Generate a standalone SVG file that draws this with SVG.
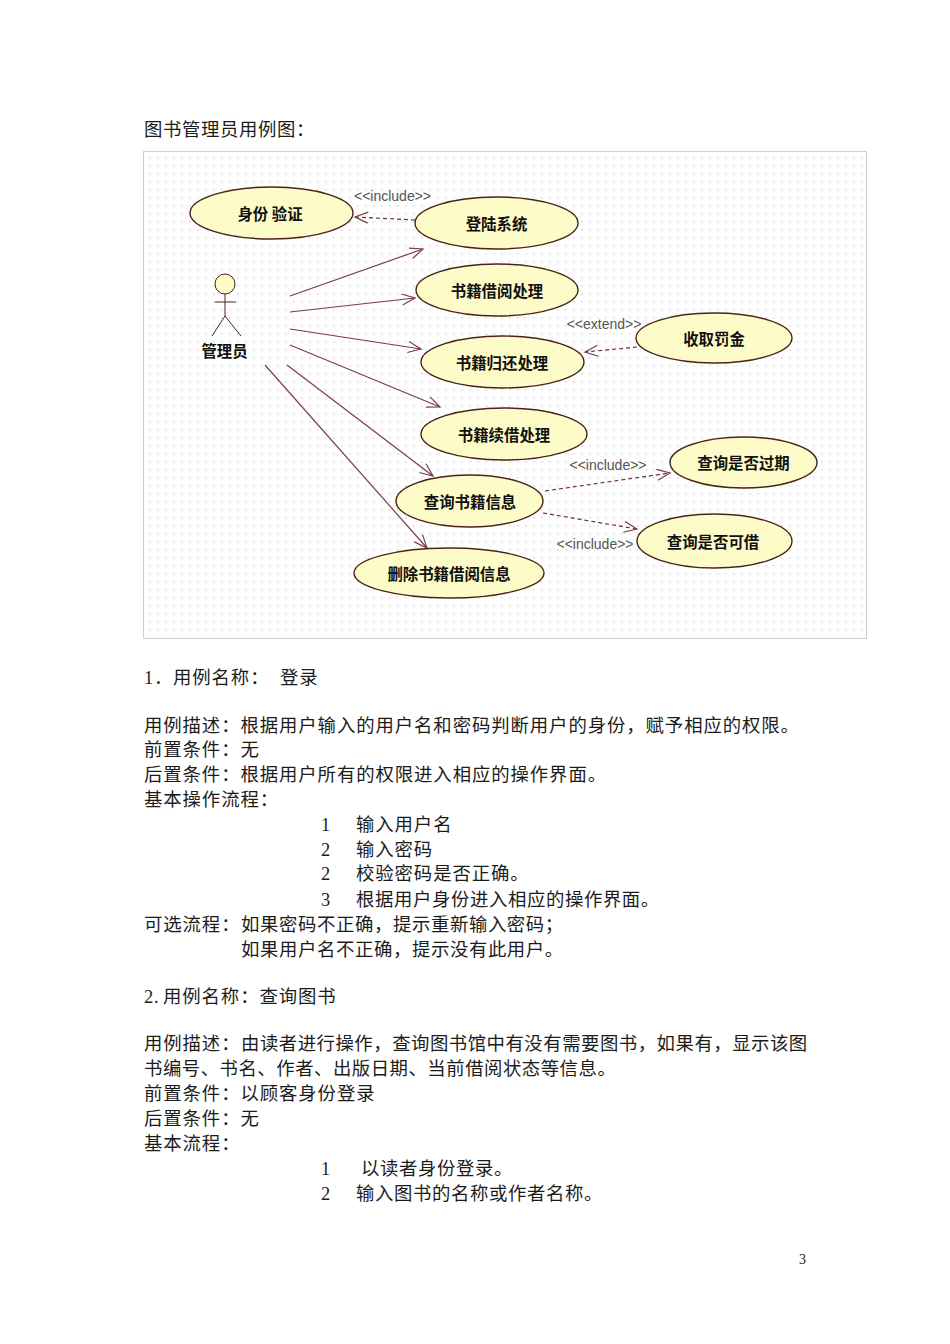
<svg xmlns="http://www.w3.org/2000/svg" width="950" height="1344" viewBox="0 0 950 1344">
<style>
.b{font-family:"Liberation Serif","Noto Sans CJK SC",serif;font-size:18.4px;letter-spacing:.9px;fill:#1c1c1c}
.t{letter-spacing:.6px}
.n{letter-spacing:.5px}
.uc ellipse{fill:#fdfbc8;stroke:#4a2418;stroke-width:1.4}
.uc text,.an{font-family:"Noto Sans CJK SC",sans-serif;font-size:15.4px;font-weight:700;fill:#111;text-anchor:middle}
.st{font-family:"Liberation Sans",sans-serif;font-size:14px;fill:#555;text-anchor:middle}
.a{fill:none;stroke:#7c3d48;stroke-width:1.2;marker-end:url(#o)}
.d{fill:none;stroke:#6b3038;stroke-width:1.2;stroke-dasharray:4 3;marker-end:url(#o)}
.act{fill:none;stroke:#4a2418;stroke-width:1}
</style>
<defs>
<pattern id="dots" width="8" height="8" patternUnits="userSpaceOnUse" patternTransform="translate(146 154)"><rect x="3" y="3" width="1.6" height="1.6" fill="#dcdcdc"/></pattern>
<marker id="o" markerUnits="userSpaceOnUse" markerWidth="16" markerHeight="14" refX="14" refY="7" orient="auto"><path d="M1 1.5L14 7L1 12.5" fill="none" stroke="#7c3d48" stroke-width="1.2"/></marker>
</defs>
<rect width="950" height="1344" fill="#fff"/>
<rect x="143.500" y="151.500" width="723" height="487" fill="#fefefe" stroke="#cfcfcf"/>
<rect x="146" y="154" width="718" height="482" fill="url(#dots)"/>
<g id="connectors">
<line class="a" x1="290" y1="296" x2="423" y2="249"/>
<line class="a" x1="290" y1="312" x2="415" y2="298"/>
<line class="a" x1="290" y1="329" x2="421" y2="349"/>
<line class="a" x1="290" y1="345" x2="440" y2="407"/>
<line class="a" x1="287" y1="365" x2="433" y2="476"/>
<line class="a" x1="265" y1="365" x2="427" y2="548"/>
<line class="d" x1="415" y1="220" x2="355" y2="217"/>
<line class="d" x1="637" y1="347" x2="585" y2="352"/>
<line class="d" x1="545" y1="491" x2="670" y2="473"/>
<line class="d" x1="543" y1="513" x2="637" y2="529"/>
</g>
<g id="actor">
<circle cx="225" cy="284" r="10" fill="#fdfbc8" stroke="#4a2418"/>
<path class="act" d="M225 294V316M215 302H236M225 316L212 336M225 316L241 336"/>
<text class="an" x="224.500" y="357">管理员</text>
</g>
<g id="uc-auth" class="uc"><ellipse cx="271.500" cy="213" rx="81.500" ry="26"/><text x="270" y="220">身份 验证</text></g>
<g id="uc-login" class="uc"><ellipse cx="496.500" cy="223" rx="81.500" ry="26"/><text x="496.500" y="230">登陆系统</text></g>
<g id="uc-borrow" class="uc"><ellipse cx="497" cy="290" rx="81" ry="26"/><text x="497" y="297">书籍借阅处理</text></g>
<g id="uc-return" class="uc"><ellipse cx="502.500" cy="362" rx="81.500" ry="26"/><text x="502" y="369">书籍归还处理</text></g>
<g id="uc-renew" class="uc"><ellipse cx="504" cy="434" rx="83" ry="26"/><text x="504" y="441">书籍续借处理</text></g>
<g id="uc-query" class="uc"><ellipse cx="469.500" cy="501" rx="73.500" ry="26"/><text x="470" y="508">查询书籍信息</text></g>
<g id="uc-delete" class="uc"><ellipse cx="449" cy="573" rx="95" ry="25"/><text x="449" y="580">删除书籍借阅信息</text></g>
<g id="uc-fine" class="uc"><ellipse cx="714" cy="338" rx="78" ry="25"/><text x="714" y="345">收取罚金</text></g>
<g id="uc-overdue" class="uc"><ellipse cx="743.500" cy="462.500" rx="73.500" ry="25.500"/><text x="743.500" y="469">查询是否过期</text></g>
<g id="uc-available" class="uc"><ellipse cx="714.500" cy="541" rx="77.500" ry="27"/><text x="713" y="548">查询是否可借</text></g>
<text class="st" x="392.500" y="201">&lt;&lt;include&gt;&gt;</text>
<text class="st" x="604" y="329">&lt;&lt;extend&gt;&gt;</text>
<text class="st" x="608" y="470">&lt;&lt;include&gt;&gt;</text>
<text class="st" x="595" y="549">&lt;&lt;include&gt;&gt;</text>
<g id="text">
<text class="b t" x="144" y="136">图书管理员用例图：</text>
<text class="b" x="144" y="684">1．</text><text class="b" x="173" y="684">用例名称：</text><text class="b" x="280" y="684">登录</text>
<text class="b" x="144" y="732">用例描述：根据用户输入的用户名和密码判断用户的身份，赋予相应的权限。</text>
<text class="b" x="144" y="756">前置条件：无</text>
<text class="b" x="144" y="781">后置条件：根据用户所有的权限进入相应的操作界面。</text>
<text class="b" x="144" y="806">基本操作流程：</text>
<text class="b" x="321" y="831">1</text><text class="b" x="356" y="831">输入用户名</text>
<text class="b" x="321" y="856">2</text><text class="b" x="356" y="856">输入密码</text>
<text class="b" x="321" y="880">2</text><text class="b" x="356" y="880">校验密码是否正确。</text>
<text class="b" x="321" y="906">3</text><text class="b t" x="356" y="906">根据用户身份进入相应的操作界面。</text>
<text class="b" x="144" y="931">可选流程：</text><text class="b t" x="241" y="931">如果密码不正确，提示重新输入密码；</text>
<text class="b t" x="241" y="956">如果用户名不正确，提示没有此用户。</text>
<text class="b" x="144" y="1003">2.</text><text class="b" x="163" y="1003">用例名称：查询图书</text>
<text class="b" x="144" y="1050">用例描述：</text><text class="b n" x="241" y="1050">由读者进行操作，查询图书馆中有没有需要图书，如果有，显示该图</text>
<text class="b n" x="144" y="1075">书编号、书名、作者、出版日期、当前借阅状态等信息。</text>
<text class="b" x="144" y="1100">前置条件：以顾客身份登录</text>
<text class="b" x="144" y="1125">后置条件：无</text>
<text class="b" x="144" y="1150">基本流程：</text>
<text class="b" x="321" y="1175">1</text><text class="b t" x="361" y="1175">以读者身份登录。</text>
<text class="b" x="321" y="1200">2</text><text class="b t" x="356" y="1200">输入图书的名称或作者名称。</text>
<text x="799" y="1264" style="font-family:'Liberation Serif',serif;font-size:14px;fill:#222">3</text>
</g>
</svg>
